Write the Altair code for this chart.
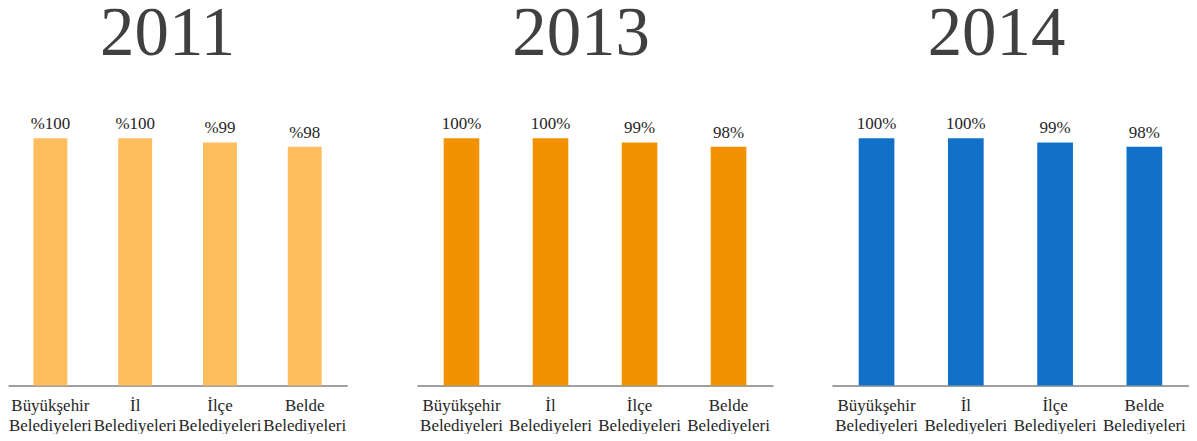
import altair as alt
import pandas as pd

categories = ["Büyükşehir Belediyeleri", "İl Belediyeleri", "İlçe Belediyeleri", "Belde Belediyeleri"]
years = ["2011", "2013", "2014"]
values_2011 = [100, 100, 99, 98]
values_2013 = [100, 100, 99, 98]
values_2014 = [100, 100, 99, 98]
labels_2011 = ["%100", "%100", "%99", "%98"]
labels_2013 = ["100%", "100%", "99%", "98%"]
labels_2014 = ["100%", "100%", "99%", "98%"]
y_floor = 42

FONT = "Liberation Serif"
PLOT_H = 378


def panel(year, values, labels, color, width, title_dx):
    df = pd.DataFrame({"cat": categories, "v": values, "lab": labels})
    x = alt.X(
        "cat:N", sort=categories, title=None,
        scale=alt.Scale(paddingInner=0.6, paddingOuter=0.3),
        axis=alt.Axis(
            labelExpr="split(datum.label, ' ')", labelAngle=0, ticks=False,
            domainColor="#a0a0a0", domainWidth=2, labelFont=FONT, labelFontSize=17,
            labelColor="#262626", labelPadding=12, labelLineHeight=20,
            labelOverlap=False, labelLimit=300, labelBound=False,
        ),
    )
    y = alt.Y("v:Q", scale=alt.Scale(domain=[y_floor, 100], range=[PLOT_H, 130], zero=False, nice=False), axis=None)
    bars = alt.Chart(df).mark_bar(color=color).encode(x=x, y=y, y2=alt.datum(y_floor))
    text = alt.Chart(df).mark_text(
        baseline="alphabetic", dy=-9, font=FONT, fontSize=17, color="#262626"
    ).encode(x=x, y=y, text="lab:N")
    title = alt.Chart(pd.DataFrame({"t": [year]})).mark_text(
        font=FONT, fontSize=69, color="#404040", baseline="alphabetic",
        align="center", dx=title_dx, clip=True,
    ).encode(x=alt.value(width / 2), y=alt.value(47), text="t:N")
    return alt.layer(bars, text, title).properties(width=width, height=PLOT_H)


p1 = panel(years[0], values_2011, labels_2011, "#FFBE5E", 340, -10)
p2 = panel(years[1], values_2013, labels_2013, "#F39200", 357, -14)
p3 = panel(years[2], values_2014, labels_2014, "#1170C8", 358, -14)

chart = alt.hconcat(
    alt.hconcat(p1, p2, spacing=70),
    p3,
    spacing=59,
).properties(padding=0).configure_view(stroke=None)

chart.save("out.html", embed_options={"renderer": "svg", "actions": False})
